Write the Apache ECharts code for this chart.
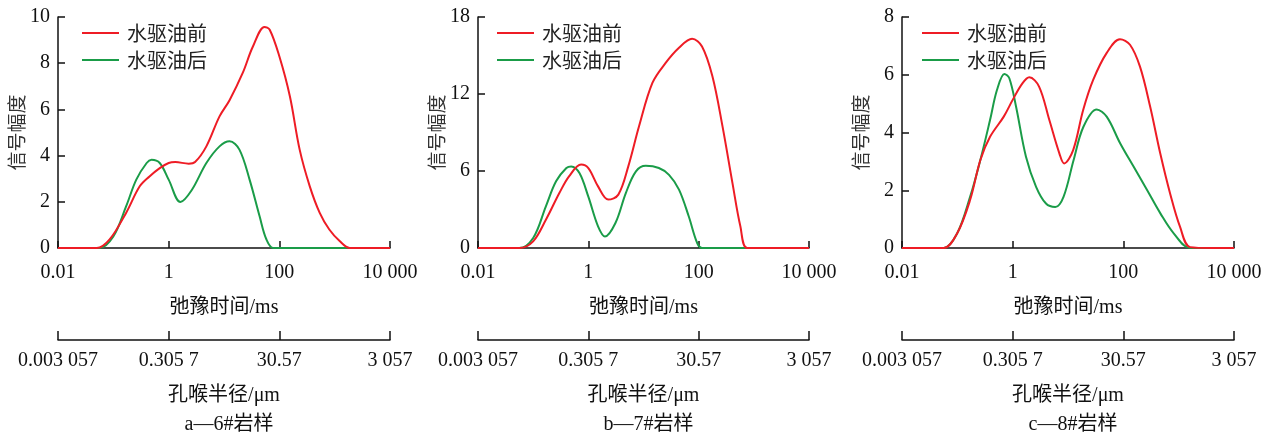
<!DOCTYPE html>
<html>
<head>
<meta charset="utf-8">
<script src="https://cdn.jsdelivr.net/npm/echarts@6/dist/echarts.min.js"></script>
<style>
html,body{margin:0;padding:0;background:#fff;}
#chart{width:1274px;height:441px;}
</style>
</head>
<body>
<div id="chart"></div>
<script>
// ---- data ----
const seriesNames = ['水驱油前', '水驱油后'];
const captions = ['a—6#岩样', 'b—7#岩样', 'c—8#岩样'];
const relaxTickValues = [0.01, 1, 100, 10000];
const relaxTicks = ['0.01', '1', '100', '10 000'];
const poreTicks = ['0.003 057', '0.305 7', '30.57', '3 057'];
const xTitle = '弛豫时间/ms';
const poreTitle = '孔喉半径/μm';
const yTitle = '信号幅度';
const yMaxes = [10, 18, 8];
const yIntervals = [2, 6, 2];

// panel a (6#)
const beforeA_x = [0.01, 0.03, 0.05, 0.085, 0.17, 0.3, 0.45, 0.69, 1.0, 1.32, 2.3, 3.0, 4.8, 8.3, 12.6, 22, 33, 54, 67, 100, 155, 233, 355, 537, 800, 1230, 1870, 4000, 10000];
const beforeA_y = [0, 0, 0, 0.36, 1.52, 2.67, 3.1, 3.46, 3.68, 3.72, 3.65, 3.72, 4.4, 5.7, 6.4, 7.6, 8.7, 9.57, 9.45, 8.3, 6.57, 4.26, 2.67, 1.52, 0.8, 0.3, 0, 0, 0];
const afterA_x = [0.01, 0.03, 0.056, 0.1, 0.17, 0.26, 0.4, 0.49, 0.69, 1.0, 1.63, 2.6, 4.8, 8.3, 12.6, 19, 29, 44, 58, 78, 200, 10000];
const afterA_y = [0, 0, 0, 0.5, 1.8, 2.96, 3.68, 3.82, 3.68, 2.96, 1.99, 2.5, 3.68, 4.4, 4.62, 4.26, 2.96, 1.37, 0.39, 0, 0, 0];

// panel b (7#)
const beforeB_x = [0.01, 0.03, 0.056, 0.1, 0.17, 0.3, 0.45, 0.74, 1.0, 1.5, 2.3, 3.5, 5.3, 8.3, 14.5, 25, 44, 76, 115, 177, 270, 410, 570, 760, 2000, 10000];
const beforeB_y = [0, 0, 0, 0.52, 2.2, 4.3, 5.6, 6.5, 6.23, 4.8, 3.77, 4.16, 6.36, 9.48, 12.86, 14.4, 15.6, 16.3, 15.7, 13.4, 9.5, 5.06, 1.69, 0, 0, 0];
const afterB_x = [0.01, 0.03, 0.056, 0.1, 0.17, 0.26, 0.4, 0.49, 0.69, 1.0, 1.5, 2.0, 3.1, 4.8, 7.3, 11, 19, 29, 44, 66, 94, 115, 300, 10000];
const afterB_y = [0, 0, 0, 0.78, 3.25, 5.2, 6.23, 6.36, 5.84, 4.0, 1.69, 0.9, 1.95, 4.3, 5.97, 6.4, 6.23, 5.7, 4.55, 2.47, 0.39, 0, 0, 0];

// panel c (8#)
const beforeC_x = [0.01, 0.03, 0.057, 0.099, 0.17, 0.26, 0.39, 0.69, 1.0, 1.5, 2.0, 3.0, 4.6, 7.0, 8.5, 12.4, 18.8, 28.5, 49.8, 87, 132, 200, 305, 464, 700, 1060, 1610, 4000, 10000];
const beforeC_y = [0, 0, 0, 0.5, 1.66, 3.04, 3.85, 4.55, 5.13, 5.7, 5.91, 5.59, 4.43, 3.27, 2.93, 3.39, 4.78, 5.82, 6.75, 7.23, 7.04, 6.28, 4.9, 3.28, 1.89, 0.73, 0.03, 0, 0];
const afterC_x = [0.01, 0.03, 0.057, 0.099, 0.17, 0.26, 0.39, 0.52, 0.71, 0.87, 1.15, 1.74, 2.65, 4.0, 5.9, 8.3, 12.6, 19, 33, 50, 88, 154, 270, 470, 820, 1610, 4000, 10000];
const afterC_y = [0, 0, 0, 0.5, 1.77, 3.04, 4.43, 5.47, 6.03, 5.88, 4.9, 3.16, 2.12, 1.54, 1.42, 1.77, 3.04, 4.2, 4.8, 4.55, 3.62, 2.81, 2.0, 1.19, 0.5, 0, 0, 0];

// ---- chart ----
const pairs = (xs, ys) => xs.map((x, i) => [x, ys[i]]);
const panelData = [
  [pairs(beforeA_x, beforeA_y), pairs(afterA_x, afterA_y)],
  [pairs(beforeB_x, beforeB_y), pairs(afterB_x, afterB_y)],
  [pairs(beforeC_x, beforeC_y), pairs(afterC_x, afterC_y)]
];
const colors = ['#ee1c25', '#1a9c48'];
const gridLeft = [58, 478, 902];
const gridWidth = [332, 331, 332];
const legendOffset = [24, 19, 20];
const gridTop = 17, gridHeight = 231;
const serif = "'Liberation Serif','Noto Sans CJK SC',serif";
const cjk = "'Noto Sans CJK SC',sans-serif";
const txt = '#111';

const tickIndex = v => Math.round(Math.log10(v)) / 2 + 1;

const option = {
  animation: false,
  backgroundColor: '#fff',
  grid: [], xAxis: [], yAxis: [], series: [], legend: [], title: []
};

for (let p = 0; p < 3; p++) {
  option.grid.push({left: gridLeft[p], top: gridTop, width: gridWidth[p], height: gridHeight, containLabel: false});
  const axisLine = {show: true, lineStyle: {color: '#111', width: 1.5}};
  option.xAxis.push({
    type: 'log', logBase: 10, gridIndex: p, min: 0.01, max: 10000,
    axisLine: axisLine,
    axisTick: {show: true, inside: true, length: 7, customValues: relaxTickValues, lineStyle: {color: '#111', width: 1.5}},
    splitLine: {show: false}, minorTick: {show: false},
    axisLabel: {color: txt, fontFamily: serif, fontSize: 20, margin: 15, customValues: relaxTickValues,
      formatter: v => relaxTicks[tickIndex(v)] || ''},
    name: xTitle, nameLocation: 'middle', nameGap: 50,
    nameTextStyle: {color: txt, fontFamily: serif, fontSize: 20}
  });
  option.xAxis.push({
    type: 'log', logBase: 10, gridIndex: p, min: 0.01, max: 10000,
    position: 'bottom', offset: 92,
    axisLine: axisLine,
    axisTick: {show: true, inside: true, length: 9, customValues: relaxTickValues, lineStyle: {color: '#111', width: 1.5}},
    splitLine: {show: false}, minorTick: {show: false},
    axisLabel: {color: txt, fontFamily: serif, fontSize: 20, margin: 11, customValues: relaxTickValues,
      formatter: v => poreTicks[tickIndex(v)] || ''},
    name: poreTitle, nameLocation: 'middle', nameGap: 46,
    nameTextStyle: {color: txt, fontFamily: serif, fontSize: 20}
  });
  option.yAxis.push({
    type: 'value', gridIndex: p, min: 0, max: yMaxes[p], interval: yIntervals[p],
    axisLine: axisLine,
    axisTick: {show: true, inside: true, length: 7, lineStyle: {color: '#111', width: 1.5}},
    splitLine: {show: false},
    axisLabel: {color: txt, fontFamily: serif, fontSize: 20, margin: 8},
    name: yTitle, nameLocation: 'middle', nameGap: 32, nameRotate: 90,
    nameTextStyle: {color: '#333', fontFamily: cjk, fontSize: 19}
  });
  for (let s = 0; s < 2; s++) {
    option.series.push({
      type: 'line', name: seriesNames[s], xAxisIndex: p * 2, yAxisIndex: p,
      data: panelData[p][s], symbol: 'none', showSymbol: false, smooth: 0.35,
      lineStyle: {color: colors[s], width: 2}, itemStyle: {color: colors[s]},
      z: s === 0 ? 3 : 2
    });
  }
  option.legend.push({
    data: seriesNames.map(n => ({name: n, icon: 'rect'})),
    orient: 'vertical', left: gridLeft[p] + legendOffset[p] - 5, top: 18,
    itemWidth: 37, itemHeight: 2, itemGap: 7, selectedMode: false,
    textStyle: {color: '#222', fontFamily: cjk, fontSize: 20, lineHeight: 20, padding: [0, 0, 0, 3]}
  });
  option.title.push({
    text: captions[p], left: gridLeft[p] + gridWidth[p] / 2, top: 410, textAlign: 'center',
    textStyle: {color: txt, fontFamily: serif, fontSize: 20, fontWeight: 'normal'}
  });
}

const chart = echarts.init(document.getElementById('chart'), null, {renderer: 'canvas'});
chart.setOption(option);
</script>
</body>
</html>
